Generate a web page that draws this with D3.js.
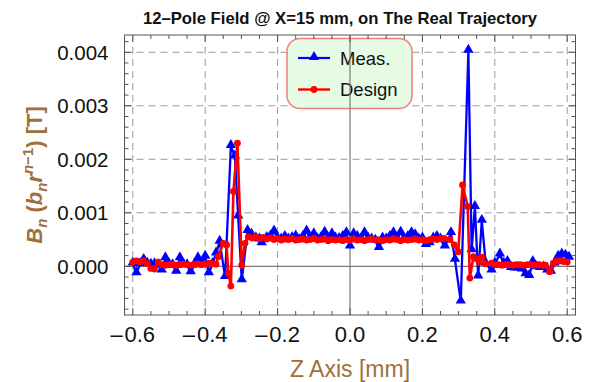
<!DOCTYPE html>
<html><head><meta charset="utf-8">
<script src="https://cdn.jsdelivr.net/npm/d3@7"></script>
<style>body{margin:0;background:#fff} svg{display:block} text{font-family:"Liberation Sans",Arial,sans-serif}</style>
</head><body><svg id="c" width="598" height="382"></svg>
<script>
// ---- data ----
const measZ = [-0.60,-0.59,-0.58,-0.57,-0.56,-0.55,-0.54,-0.53,-0.52,-0.51,-0.50,-0.49,-0.48,-0.47,-0.46,-0.45,-0.44,-0.43,-0.42,-0.41,-0.40,-0.39,-0.38,-0.37,-0.36,-0.345,-0.329,-0.318,-0.309,-0.299,-0.283,-0.272,-0.26,-0.25,-0.244,-0.23,-0.22,-0.21,-0.20,-0.19,-0.18,-0.17,-0.16,-0.15,-0.14,-0.13,-0.12,-0.11,-0.10,-0.09,-0.08,-0.07,-0.06,-0.05,-0.04,-0.03,-0.02,-0.01,0.00,0.01,0.02,0.03,0.04,0.05,0.06,0.07,0.08,0.09,0.10,0.11,0.12,0.13,0.14,0.15,0.16,0.17,0.18,0.19,0.20,0.21,0.22,0.23,0.24,0.25,0.262,0.279,0.290,0.306,0.327,0.336,0.345,0.354,0.364,0.375,0.391,0.40,0.414,0.425,0.435,0.445,0.455,0.465,0.475,0.485,0.495,0.505,0.515,0.525,0.535,0.545,0.555,0.565,0.575,0.585,0.595,0.605];
const measB = [0.00005,-0.00013,0.00004,0.00012,0.00005,0.00003,0.00004,0.00002,-0.00008,0.00015,0.00004,0.00002,-0.00010,0.00015,0.00003,0.00002,-0.00011,0.00003,0.00015,0.00005,0.00018,-0.00013,0.00004,0.00024,0.00046,-0.00020,0.00225,0.00205,0.00093,-0.00026,0.00066,0.00059,0.00052,0.00050,0.00043,0.00053,0.00056,0.00065,0.00052,0.00050,0.00055,0.00050,0.00053,0.00056,0.00049,0.00055,0.00065,0.00052,0.00060,0.00050,0.00053,0.00063,0.00050,0.00060,0.00052,0.00051,0.00055,0.00062,0.00037,0.00060,0.00055,0.00050,0.00062,0.00052,0.00050,0.00048,0.00034,0.00052,0.00050,0.00055,0.00062,0.00052,0.00063,0.00050,0.00055,0.00062,0.00058,0.00050,0.00052,0.00040,0.00043,0.00052,0.00055,0.00050,0.00037,0.00062,0.00012,-0.00066,0.00403,0.00030,0.00111,-0.00019,0.00085,0.00005,-0.00008,0.00005,0.00022,0.00005,0.00008,-0.00003,-0.00004,-0.00004,-0.00006,-0.00015,-0.00018,0.00008,-0.00002,-0.00003,-0.00002,-0.00008,-0.00010,0.00005,0.00018,0.00022,0.00020,0.00016];

const designZ = [-0.60,-0.59,-0.58,-0.57,-0.56,-0.55,-0.54,-0.53,-0.52,-0.51,-0.50,-0.49,-0.48,-0.47,-0.46,-0.45,-0.44,-0.43,-0.42,-0.41,-0.40,-0.39,-0.38,-0.37,-0.364,-0.350,-0.341,-0.336,-0.329,-0.322,-0.311,-0.299,-0.290,-0.281,-0.27,-0.26,-0.25,-0.24,-0.23,-0.22,-0.21,-0.20,-0.19,-0.18,-0.17,-0.16,-0.15,-0.14,-0.13,-0.12,-0.11,-0.10,-0.09,-0.08,-0.07,-0.06,-0.05,-0.04,-0.03,-0.02,-0.01,0.00,0.01,0.02,0.03,0.04,0.05,0.06,0.07,0.08,0.09,0.10,0.11,0.12,0.13,0.14,0.15,0.16,0.17,0.18,0.19,0.20,0.21,0.22,0.23,0.24,0.25,0.26,0.276,0.288,0.299,0.311,0.325,0.331,0.341,0.350,0.357,0.364,0.375,0.391,0.40,0.41,0.42,0.43,0.44,0.45,0.46,0.47,0.48,0.49,0.50,0.51,0.52,0.53,0.54,0.552,0.562,0.571,0.58,0.59,0.60];
const designB = [0.00008,0.00010,0.00008,0.00010,0.00005,-0.00004,-0.00005,0.00008,0.00003,0.00002,0.00003,0.00003,0.00002,0.00003,0.00004,0.00003,0.00002,0.00003,0.00004,0.00003,0.00004,0.00006,0.00005,0.00004,0.00018,0.00043,0.00040,-0.00013,-0.00037,0.00140,0.00230,0.00002,0.00043,0.00055,0.00053,0.00055,0.00052,0.00054,0.00051,0.00053,0.00050,0.00052,0.00049,0.00051,0.00050,0.00052,0.00049,0.00050,0.00051,0.00049,0.00050,0.00052,0.00049,0.00050,0.00051,0.00048,0.00050,0.00049,0.00050,0.00048,0.00050,0.00049,0.00051,0.00049,0.00050,0.00048,0.00050,0.00051,0.00049,0.00050,0.00048,0.00050,0.00049,0.00051,0.00050,0.00048,0.00050,0.00049,0.00050,0.00051,0.00049,0.00050,0.00048,0.00050,0.00051,0.00050,0.00052,0.00052,0.00050,0.00040,0.00027,0.00152,0.00112,-0.00022,0.00018,0.00014,0.00008,0.00017,0.00005,0.00006,0.00003,0.00003,0.00002,0.00003,0.00003,0.00002,0.00003,0.00003,0.00002,0.00003,0.00003,0.00002,0.00003,0.00002,0.00002,-0.00010,0.00006,0.00010,0.00010,0.00009,0.00008];

const xTicks = [-0.6,-0.4,-0.2,0,0.2,0.4,0.6];
const xTickLabels = ["\u2013\u200A0.6","\u2013\u200A0.4","\u2013\u200A0.2","0.0","0.2","0.4","0.6"];
const yTicks = [0,0.001,0.002,0.003,0.004];
const yTickLabels = ["0.000","0.001","0.002","0.003","0.004"];
const seriesNames = ["Meas.","Design"];
const titleText = "12\u2013Pole Field @ X=15 mm, on The Real Trajectory";

// ---- layout ----
const L=124.5, R=575.5, T=35, B=315;
const x = d3.scaleLinear().domain([-0.6229,0.6229]).range([L,R]);
const y = d3.scaleLinear().domain([-0.00091,0.004323]).range([B,T]);
const svg = d3.select("#c");
const brown = "#a0703c";

// grid
const grid = svg.append("g").attr("stroke","#9a9a9a").attr("stroke-width",1).attr("stroke-dasharray","7,5").attr("fill","none");
xTicks.filter(d=>d!==0).forEach(d=>grid.append("line").attr("x1",x(d)).attr("x2",x(d)).attr("y1",T).attr("y2",B));
yTicks.filter(d=>d!==0).forEach(d=>grid.append("line").attr("x1",L).attr("x2",R).attr("y1",y(d)).attr("y2",y(d)));

// legend
const lg = svg.append("g");
lg.append("rect").attr("x",287).attr("y",38.5).attr("width",125).attr("height",70).attr("rx",13)
  .attr("fill","#e6fbe4").attr("stroke","#f27d7d").attr("stroke-width",1.5);
const tri = d3.symbol().type(d3.symbolTriangle).size(46);
lg.append("line").attr("x1",298).attr("x2",330).attr("y1",58).attr("y2",58).attr("stroke","#0000ff").attr("stroke-width",2.2);
lg.append("path").attr("d",tri()).attr("transform","translate(314,57)").attr("fill","#0000ff");
lg.append("text").attr("x",340).attr("y",64.5).attr("font-size",18.5).attr("fill","#111").text(seriesNames[0]);
lg.append("line").attr("x1",298).attr("x2",330).attr("y1",89.5).attr("y2",89.5).attr("stroke","#ff0000").attr("stroke-width",2.4);
lg.append("circle").attr("cx",314).attr("cy",89.5).attr("r",3.4).attr("fill","#ff0000");
lg.append("text").attr("x",340).attr("y",96).attr("font-size",18.5).attr("fill","#111").text(seriesNames[1]);

// zero axes
svg.append("line").attr("x1",L).attr("x2",R).attr("y1",y(0)).attr("y2",y(0)).attr("stroke","#7a7a7a").attr("stroke-width",1.2);
svg.append("line").attr("x1",x(0)).attr("x2",x(0)).attr("y1",T).attr("y2",B).attr("stroke","#7a7a7a").attr("stroke-width",1.2);

// series
const meas = measZ.map((z,i)=>[z,measB[i]]);
const design = designZ.map((z,i)=>[z,designB[i]]);
const line = d3.line().x(d=>x(d[0])).y(d=>y(d[1]));
const gM = svg.append("g");
gM.append("path").datum(meas).attr("d",line).attr("fill","none").attr("stroke","#0000ff").attr("stroke-width",2.3).attr("stroke-linejoin","round");
gM.selectAll("path.m").data(meas).join("path").attr("class","m").attr("d",tri())
  .attr("transform",d=>`translate(${x(d[0])},${y(d[1])-1})`).attr("fill","#0000ff");
const gD = svg.append("g");
gD.append("path").datum(design).attr("d",line).attr("fill","none").attr("stroke","#ff0000").attr("stroke-width",2.6).attr("stroke-linejoin","round");
gD.selectAll("circle").data(design).join("circle").attr("cx",d=>x(d[0])).attr("cy",d=>y(d[1])).attr("r",3.4).attr("fill","#ff0000");

// frame
svg.append("rect").attr("x",L).attr("y",T).attr("width",R-L).attr("height",B-T).attr("fill","none").attr("stroke","#555").attr("stroke-width",1);
const tk = svg.append("g").attr("stroke","#555").attr("stroke-width",1);
const xMinor = d3.range(-12,13).map(i=>i*0.05);
xMinor.forEach((d,i)=>{
  const len = ((i%4)===0)?7:4;
  tk.append("line").attr("x1",x(d)).attr("x2",x(d)).attr("y1",B).attr("y2",B-len);
  tk.append("line").attr("x1",x(d)).attr("x2",x(d)).attr("y1",T).attr("y2",T+len);
});
const yMinor = d3.range(-4,22).map(i=>i*0.0002);
yMinor.forEach((d,i)=>{
  if (y(d)>B+0.1 || y(d)<T-0.1) return;
  const len = (((i+1)%5)===0)?7:4;
  tk.append("line").attr("x1",L).attr("x2",L+len).attr("y1",y(d)).attr("y2",y(d));
  tk.append("line").attr("x1",R).attr("x2",R-len).attr("y1",y(d)).attr("y2",y(d));
});

// tick labels
xTicks.forEach((d,i)=>svg.append("text").attr("x",x(d)).attr("y",341.5).attr("text-anchor","middle").attr("font-size",22).attr("fill","#111").text(xTickLabels[i]));
yTicks.forEach((d,i)=>svg.append("text").attr("x",108.5).attr("y",y(d)+7.5).attr("text-anchor","end").attr("font-size",20.5).attr("fill","#111").text(yTickLabels[i]));

// title
svg.append("text").attr("x",340).attr("y",23.5).attr("text-anchor","middle").attr("font-size",16.7).attr("font-weight","bold").attr("fill","#111").text(titleText);

// axis labels
svg.append("text").attr("x",350).attr("y",377).attr("text-anchor","middle").attr("font-size",23).attr("fill",brown).text("Z Axis [mm]");
const yl = svg.append("text").attr("transform","translate(42,175) rotate(-90)").attr("text-anchor","middle").attr("font-size",22).attr("font-weight","bold").attr("fill",brown);
yl.append("tspan").attr("font-style","italic").text("B");
yl.append("tspan").attr("font-style","italic").attr("font-size",15).attr("dy",5).text("n");
yl.append("tspan").attr("dy",-5).text(" (");
yl.append("tspan").attr("font-style","italic").text("b");
yl.append("tspan").attr("font-style","italic").attr("font-size",15).attr("dy",5).text("n");
yl.append("tspan").attr("font-style","italic").attr("dy",-5).text("r");
yl.append("tspan").attr("font-style","italic").attr("font-size",15).attr("dy",-9).text("n");
yl.append("tspan").attr("font-size",15).text("\u22121");
yl.append("tspan").attr("dy",9).text(") [T]");
</script></body></html>
